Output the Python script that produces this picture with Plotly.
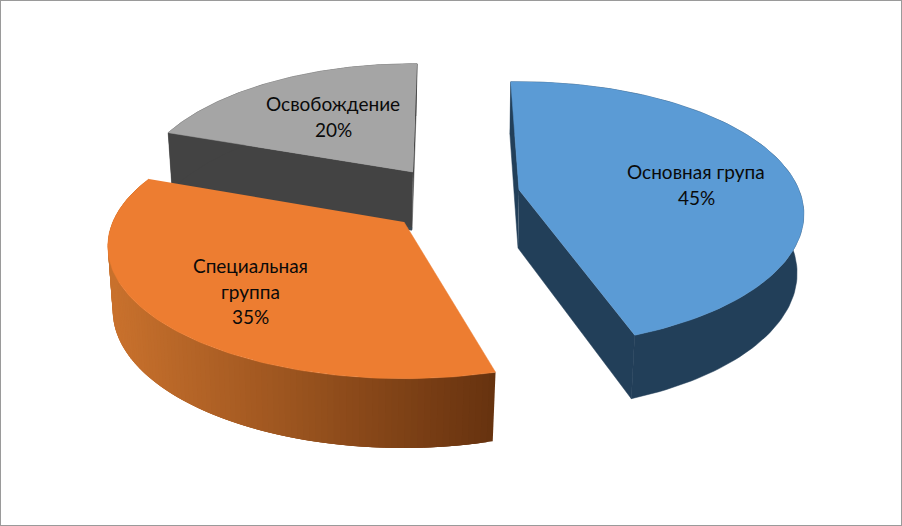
import numpy as np
import plotly.graph_objects as go

categories = ["Основная група", "Специальная<br>группа", "Освобождение"]
shares = [45, 35, 20]

# drawing setup, pixels of the 902x526 page
apex = {0: (519, 190), 1: (404, 222), 2: (413, 172)}
turn_deg = {0: -2, 1: 3, 2: 1}
stretch = {0: 1.0, 1: 1.04, 2: 0.98}
depth = {0: 58, 1: 63, 2: 58}
label_pos = {0: (696, 184.5), 1: (250, 291), 2: (333, 116.5)}
top_colors = ["#5B9BD5", "#ED7D31", "#A5A5A5"]
radius_x = 280
radius_y = 128
persp = 0.183
bottom_shrink = 0.98
line_gap = 25.5
WIDTH, HEIGHT = 902, 526


def project(ax, ay, theta, sx):
    u = np.sin(theta)
    v = np.cos(theta)
    f = 1 / (1 + persp * v)
    return ax + radius_x * sx * u * f, ay - radius_y * v * f, v


def drop(ax, x, y, v, h):
    return ax + (x - ax) * bottom_shrink - 1, y + h * (1 - 0.1 * v)


def poly(xs, ys, color, edge=0.5):
    return go.Scatter(x=list(xs), y=list(ys), mode="lines", fill="toself", fillcolor=color,
                      line=dict(color=color, width=edge), hoverinfo="skip", showlegend=False)


def orange_shade(x):
    t = np.clip((x - 115) / (497 - 115), 0, 1)
    left, right = np.array([200, 113, 45]), np.array([102, 50, 15])
    return "rgb(%d,%d,%d)" % tuple(left + (right - left) * t)


wall_colors = {0: "#223F59", 2: "#434343"}

fig = go.Figure()
start = np.cumsum([0] + shares[:-1]) / sum(shares) * 2 * np.pi
ends = start + np.array(shares) / sum(shares) * 2 * np.pi

for i in [2, 1, 0]:
    ax, ay = apex[i]
    turn = np.radians(turn_deg[i])
    thetas = np.linspace(start[i] + turn, ends[i] + turn, 120)
    x, y, v = project(ax, ay, thetas, stretch[i])
    bx, by = drop(ax, x, y, v, depth[i])
    apex_bx, apex_by = drop(ax, ax, ay, 0, depth[i])

    if i == 1:
        # shaded rim, each piece overlaps the one before so no seams show
        for k in range(len(x) - 3):
            fig.add_trace(poly(np.r_[x[k:k + 4], bx[k:k + 4][::-1]], np.r_[y[k:k + 4], by[k:k + 4][::-1]],
                               orange_shade(x[k + 1]), edge=0))
    else:
        c = wall_colors[i]
        for k in [0, -1]:
            fig.add_trace(poly([ax, x[k], bx[k], apex_bx], [ay, y[k], by[k], apex_by], c))
        fig.add_trace(poly(np.r_[x, bx[::-1]], np.r_[y, by[::-1]], c))
        if i == 2:
            # bluish shadow along the foot of the grey wall
            fig.add_trace(go.Scatter(x=[bx[0], apex_bx], y=[by[0] - 1, apex_by - 1], mode="lines",
                                     line=dict(color="#3B4A56", width=3), hoverinfo="skip", showlegend=False))

    fig.add_trace(poly(np.r_[ax, x], np.r_[ay, y], top_colors[i]))

    lx, ly = label_pos[i]
    lines = categories[i].split("<br>") + ["%d%%" % shares[i]]
    for n, txt in enumerate(lines):
        fig.add_annotation(x=lx, y=ly + (n - (len(lines) - 1) / 2) * line_gap, xref="x", yref="y",
                           showarrow=False, text=txt,
                           font=dict(family="Lato, Open Sans, sans-serif", size=19, color="#0a0a0a"))

fig.add_shape(type="rect", xref="paper", yref="paper", x0=0, y0=0, x1=1, y1=1,
              line=dict(color="#9a9a9a", width=2))
fig.update_xaxes(range=[0, WIDTH], visible=False)
fig.update_yaxes(range=[HEIGHT, 0], visible=False)
fig.update_layout(width=WIDTH, height=HEIGHT, margin=dict(l=0, r=0, t=0, b=0),
                  paper_bgcolor="white", plot_bgcolor="white")
fig.write_html("out.html", config=dict(displayModeBar=False), post_script="document.body.style.margin='0';")
